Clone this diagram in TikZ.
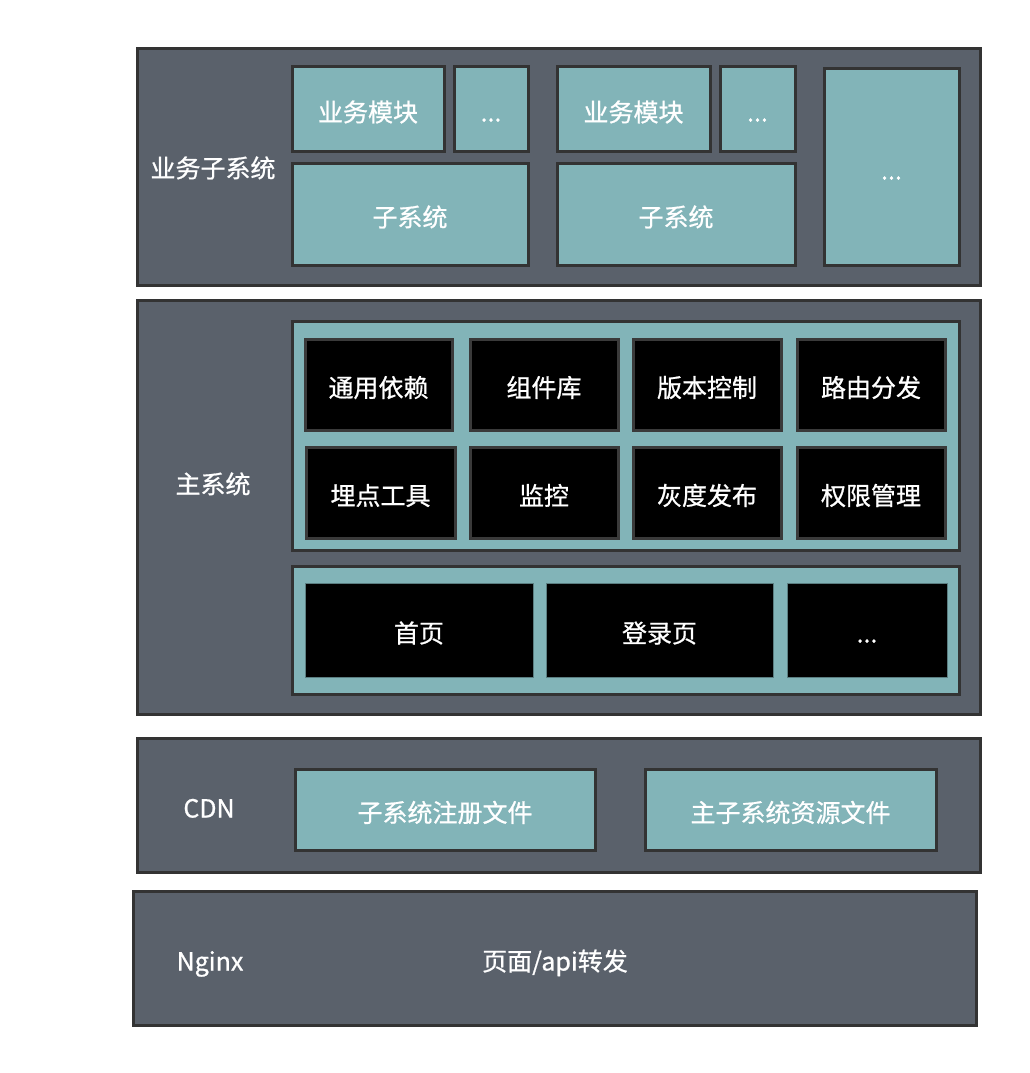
\documentclass[tikz,border=0pt]{standalone}
\usepackage{fontspec}
\setmainfont{Noto Sans CJK SC}[FakeBold=0.8]
\definecolor{slate}{RGB}{90,97,107}
\definecolor{tealc}{RGB}{130,180,184}
\definecolor{edge}{RGB}{51,51,51}
\definecolor{inner}{RGB}{58,58,58}
\tikzset{
  band/.style={draw=edge, fill=slate, line width=3pt},
  tealbox/.style={draw=edge, fill=tealc, line width=3pt},
  blackbox/.style={draw=inner, fill=black, line width=3pt},
  pagebox/.style={draw=tealc!70!black, fill=black, line width=1pt},
  sz/.style 2 args={minimum width=#1pt, minimum height=#2pt}
}
\begin{document}
\begin{tikzpicture}[x=1pt, y=-1pt, font=\fontsize{25}{30}\selectfont, text=white,
    inner sep=0pt, text height=25pt, text depth=0pt]
  \useasboundingbox[fill=white] (0,0) rectangle (1029,1073);

  % layers
  \begin{scope}[every node/.style={band}]
    \node[sz={843}{236}] (top)   at (558.5,167) {};
    \node[sz={843}{414}] (main)  at (558.5,507) {};
    \node[sz={843}{134}] (cdn)   at (558.5,805) {};
    \node[sz={843}{134}] (nginx) at (554.5,958) {};
  \end{scope}

  \node (toplbl)   at (213,165) {业务子系统};
  \node (mainlbl)  at (213,481) {主系统};
  \node (cdnlbl)   at (209,805) {CDN};
  \node (nginxlbl) at (210,958) {Nginx};
  \node (fwd)      at (555,958) {页面/api转发};

  \begin{scope}[every node/.style={tealbox}]
    \node[sz={152}{84}]  (mod1)  at (368,109)   {业务模块};
    \node[sz={74}{84}]   (dots1) at (491,109)   {...};
    \node[sz={236}{102}] (sub1)  at (410,214)   {子系统};
    \node[sz={153}{84}]  (mod2)  at (633.5,109) {业务模块};
    \node[sz={75}{84}]   (dots2) at (757.5,109) {...};
    \node[sz={238}{102}] (sub2)  at (676,214)   {子系统};
    \node[sz={135}{196}] (more)  at (891.5,167) {...};

    \node[sz={667}{229}] (core)  at (625.5,435.5) {};
    \node[sz={667}{128}] (pages) at (625.5,630)   {};

    \node[sz={300}{81}]  (reg)   at (445,809.5)   {子系统注册文件};
    \node[sz={291}{81}]  (res)   at (790.5,809.5) {主子系统资源文件};
  \end{scope}

  \begin{scope}[every node/.style={blackbox}]
    \node[sz={147}{91}] (dep)   at (378.5,384.5) {通用依赖};
    \node[sz={148}{91}] (lib)   at (544,384.5)   {组件库};
    \node[sz={148}{91}] (ver)   at (707,384.5)   {版本控制};
    \node[sz={148}{91}] (route) at (871,384.5)   {路由分发};
    \node[sz={149}{91}] (track) at (380.5,492.5) {埋点工具};
    \node[sz={148}{91}] (mon)   at (544,492.5)   {监控};
    \node[sz={148}{91}] (gray)  at (707,492.5)   {灰度发布};
    \node[sz={148}{91}] (auth)  at (871,492.5)   {权限管理};
  \end{scope}

  \begin{scope}[every node/.style={pagebox}]
    \node[sz={228}{94}] (home)  at (419,630)   {首页};
    \node[sz={227}{94}] (login) at (659.5,630) {登录页};
    \node[sz={160}{94}] (etc)   at (867,630)   {...};
  \end{scope}

\end{tikzpicture}
\end{document}
